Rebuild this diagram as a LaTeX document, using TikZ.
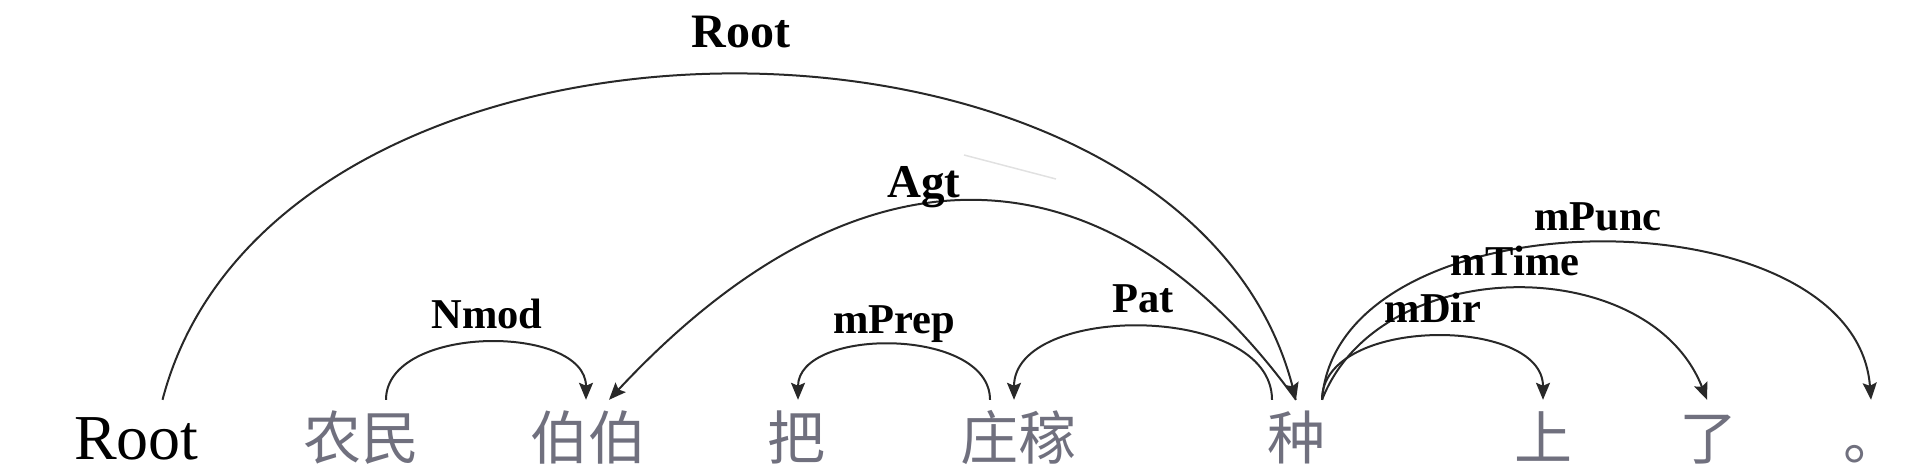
\documentclass[tikz,border=0pt]{standalone}
\usepackage{fontspec}
\setmainfont{Liberation Serif}
\newfontfamily\cjkfont{Noto Sans CJK SC}
\usetikzlibrary{arrows.meta}
\definecolor{wordgray}{RGB}{112,112,126}
\definecolor{arcgray}{RGB}{40,40,40}
\definecolor{ghost}{RGB}{225,225,225}
\begin{document}
\begin{tikzpicture}[x=1pt,y=-1pt,
  word/.style={inner sep=0pt, anchor=base, text height=59pt, text depth=8pt},
  cjkword/.style={word, font=\cjkfont\fontsize{58}{60}\selectfont, text=wordgray},
  rootword/.style={word, font=\fontsize{64}{66}\selectfont},
  lab/.style={inner sep=0pt, anchor=base, font=\bfseries\fontsize{42.5}{44}\selectfont},
  dep/.style={draw=arcgray, line width=2pt, -{Stealth[length=17pt,width=14pt,inset=3pt]}},
]
\useasboundingbox (0,0) rectangle (1910,476);

% words
\node[rootword] (w0) at (136.5,459) {Root};
\node[cjkword] (w1) at (361,459) {农民};
\node[cjkword] (w2) at (588,459) {伯伯};
\node[cjkword] (w3) at (796,459) {把};
\node[cjkword] (w4) at (1018,459) {庄稼};
\node[cjkword] (w5) at (1296,459) {种};
\node[cjkword] (w6) at (1543,459) {上};
\node[cjkword] (w7) at (1708,459) {了};
\node[cjkword] (w8) at (1872,459) {。};

% faint residue near Agt
\coordinate (g1) at (964,155);
\coordinate (g2) at (1056,179);
\draw[ghost, line width=1.5pt] (g1) -- (g2);

% arcs
\draw[dep] ([xshift=26pt]w0.north) .. controls +(113,-433) and +(-113,-433) .. (w5.north);
\draw[dep] (w5.north) .. controls +(-192,-265) and +(247,-265) .. ([xshift=21pt]w2.north);
\draw[dep] ([xshift=25pt]w1.north) .. controls +(0,-76) and +(0,-76) .. ([xshift=-2pt]w2.north);
\draw[dep] ([xshift=-28pt]w4.north) .. controls +(0,-73) and +(0,-73) .. ([xshift=2pt]w3.north);
\draw[dep] ([xshift=-24pt]w5.north) .. controls +(0,-97) and +(0,-97) .. ([xshift=-4pt]w4.north);
\draw[dep] ([xshift=26pt]w5.north) .. controls +(0,-84) and +(0,-84) .. (w6.north);
\draw[dep] ([xshift=26pt]w5.north) .. controls +(58,-148) and +(-58,-148) .. ([xshift=-1pt]w7.north);
\draw[dep] ([xshift=26pt]w5.north) .. controls +(16,-209) and +(-16,-209) .. ([xshift=-1pt]w8.north);

% labels
\node[lab, font=\bfseries\fontsize{48}{50}\selectfont] (lroot) at (741,48) {Root};
\node[lab, font=\bfseries\fontsize{47}{49}\selectfont] (lagt) at (924,197) {Agt};
\node[lab] (lnmod) at (487,328) {Nmod};
\node[lab] (lmprep) at (894,333) {mPrep};
\node[lab] (lpat) at (1143,312) {Pat};
\node[lab] (lmdir) at (1433,322) {mDir};
\node[lab] (lmtime) at (1515,275) {mTime};
\node[lab] (lmpunc) at (1598,230) {mPunc};
\end{tikzpicture}
\end{document}
